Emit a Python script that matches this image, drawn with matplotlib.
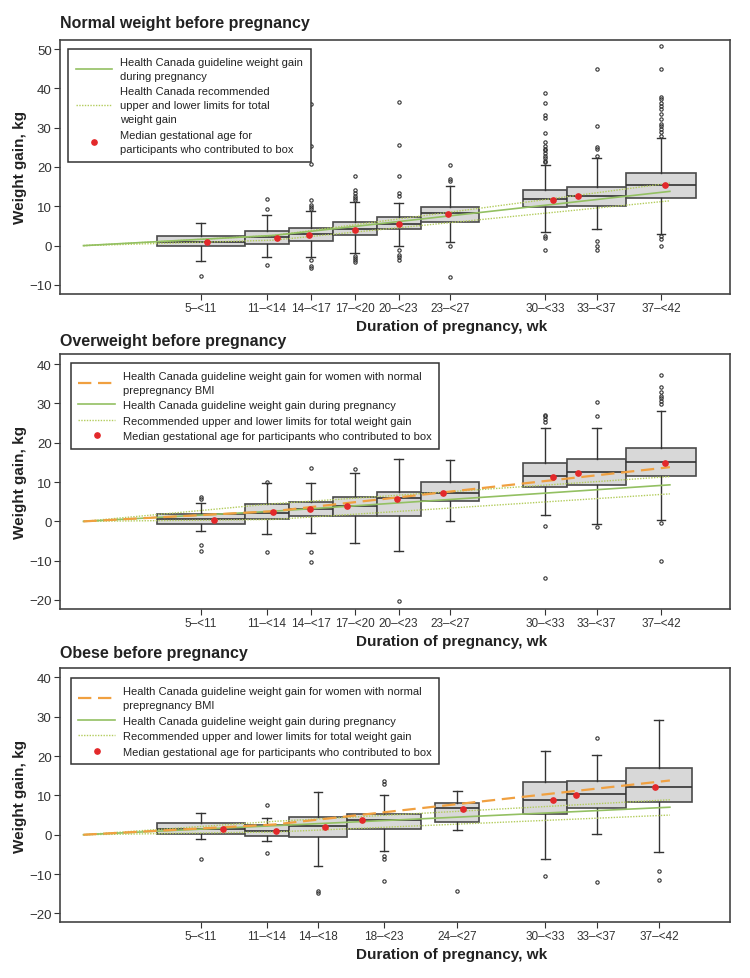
import matplotlib
matplotlib.use("Agg")
import matplotlib.pyplot as plt
from matplotlib.lines import Line2D

plt.rcParams['font.family'] = ['Liberation Sans', 'DejaVu Sans']
plt.rcParams['axes.unicode_minus'] = True

# ---- guideline lines (week, kg) ----
guide_wk = [0, 13, 40]
normal_mid = [0, 2.6, 13.8]

# ---- panel 1: normal weight ----
lab1 = ["5\u2013<11", "11\u2013<14", "14\u2013<17", "17\u2013<20", "20\u2013<23",
        "23\u2013<27", "30\u2013<33", "33\u2013<37", "37\u2013<42"]
start1 = [5, 11, 14, 17, 20, 23, 30, 33, 37]
end1 = [11, 14, 17, 20, 23, 27, 33, 37, 41.8]
q1_1 = [-0.2, 0.4, 1.3, 2.7, 4.2, 6.0, 9.7, 10.0, 12.0]
med1 = [1.0, 2.1, 2.9, 4.2, 5.6, 8.2, 11.8, 12.7, 15.4]
q3_1 = [2.5, 3.6, 4.4, 6.1, 7.2, 9.8, 14.2, 15.0, 18.5]
wlo1 = [-4.0, -3.0, -2.8, -1.9, 0.0, 1.0, 3.4, 4.2, 3.0]
whi1 = [5.8, 7.8, 8.9, 11.2, 10.9, 15.1, 20.6, 22.2, 27.3]
fl1 = [
    [-7.8],
    [9.2, 11.9, -4.9],
    [9.3, 9.8, 10.4, 11.5, 20.8, 25.4, 35.9, -3.6, -5.1, -5.8],
    [11.5, 12.1, 12.7, 13.4, 14.2, 17.6, -2.7, -3.2, -3.6, -4.1],
    [12.7, 13.3, 17.8, 25.7, 36.5, -1.0, -2.4, -3.0, -3.6],
    [16.5, 17.0, 20.5, -0.1, -8.1],
    [21.2, 21.6, 22.2, 22.9, 23.5, 24.2, 24.7, 25.4, 26.3, 28.6, 32.4, 33.1,
     36.4, 38.7, 2.4, 1.9, -1.0],
    [22.9, 24.7, 25.2, 30.5, 44.9, 1.1, -0.2, -1.0],
    [27.9, 28.8, 29.7, 30.5, 30.9, 32.2, 33.6, 34.7, 35.6, 36.4, 37.3, 37.9,
     44.9, 50.8, 2.4, 1.7, 0.0],
]
dotwk1 = [8.4, 13.2, 15.4, 18.5, 21.5, 24.9, 32.0, 33.7, 39.7]
dotkg1 = [0.85, 1.95, 2.6, 4.0, 5.5, 8.0, 11.6, 12.5, 15.3]
mid1 = [0, 2.6, 13.8]
up1 = [0, 2.6, 15.9]
lo1 = [0, 1.4, 11.4]

# ---- panel 2: overweight ----
lab2 = lab1
start2 = start1
end2 = end1
q1_2 = [-0.6, 0.7, 1.4, 1.3, 1.3, 5.1, 8.65, 9.3, 11.45]
med2 = [0.6, 2.2, 3.1, 3.8, 5.85, 7.3, 11.5, 12.45, 15.0]
q3_2 = [2.0, 4.4, 5.0, 6.1, 7.5, 9.9, 14.75, 16.0, 18.8]
wlo2 = [-2.5, -3.3, -3.0, -5.4, -7.6, 0.0, 1.6, -0.7, 0.4]
whi2 = [4.8, 9.7, 9.7, 12.3, 15.8, 15.6, 23.7, 23.8, 28.2]
fl2 = [
    [5.8, 6.1, -6.1, -7.6],
    [9.9, -7.7],
    [13.7, -7.8, -10.3],
    [13.3],
    [-20.2],
    [],
    [25.2, 26.0, 26.7, 27.0, -1.2, -14.4],
    [26.9, 30.4, -1.5],
    [29.8, 30.7, 31.4, 32.0, 32.8, 34.1, 37.2, -0.3, -10.1],
]
dotwk2 = [8.9, 12.9, 15.45, 18.0, 21.4, 24.5, 32.0, 33.7, 39.7]
dotkg2 = [0.4, 2.4, 3.1, 3.8, 5.7, 7.2, 11.35, 12.4, 14.9]
mid2 = [0, 2.6, 9.3]
up2 = [0, 4.5, 11.4]
lo2 = [0, 0.5, 7.0]

# ---- panel 3: obese ----
lab3 = ["5\u2013<11", "11\u2013<14", "14\u2013<18", "18\u2013<23", "24\u2013<27",
        "30\u2013<33", "33\u2013<37", "37\u2013<42"]
start3 = [5, 11, 14, 18, 24, 30, 33, 37]
end3 = [11, 14, 18, 23, 27, 33, 37, 41.5]
q1_3 = [0.1, -0.4, -0.7, 1.4, 3.3, 5.3, 6.9, 8.2]
med3 = [1.45, 1.0, 2.1, 3.7, 6.7, 8.8, 10.35, 12.2]
q3_3 = [2.9, 2.5, 4.6, 5.4, 8.1, 13.5, 13.6, 17.1]
wlo3 = [-1.1, -1.7, -7.9, -4.2, 1.2, -6.2, 0.3, -4.4]
whi3 = [5.5, 4.2, 10.9, 10.2, 11.2, 21.3, 20.4, 29.3]
fl3 = [
    [-6.1],
    [7.6, -4.7],
    [-14.2, -14.9],
    [12.9, 13.7, -5.5, -6.2, -11.7],
    [-14.4],
    [-10.4],
    [24.7, -11.9],
    [-9.2, -11.6],
]
dotwk3 = [9.5, 13.1, 16.5, 19.0, 25.9, 32.0, 33.6, 39.0]
dotkg3 = [1.35, 0.95, 2.0, 3.7, 6.5, 8.75, 10.2, 12.1]
mid3 = [0, 2.3, 7.0]
up3 = [0, 3.4, 8.9]
lo3 = [0, 0.7, 5.0]

GREEN = '#93c062'
DOT_GREEN = '#b3cc5c'
ORANGE = '#f0a040'
RED = '#e3282a'
DARK = '#333333'


def draw_panel(ax, labels, start, end, q1, med, q3, wlo, whi, fliers,
               dotwk, dotkg, mid, up, lo, show_normal, ylim, yticks):
    pos = [(s + e) / 2 for s, e in zip(start, end)]
    widths = [e - s for s, e in zip(start, end)]
    stats = []
    for i in range(len(labels)):
        stats.append(dict(med=med[i], q1=q1[i], q3=q3[i], whislo=wlo[i],
                          whishi=whi[i], fliers=fliers[i], label=labels[i]))
    ax.bxp(stats, positions=pos, widths=widths, capwidths=0.6,
           patch_artist=True, manage_ticks=False,
           boxprops=dict(facecolor='#d8d8d8', edgecolor='#4a4a4a', linewidth=1.2),
           medianprops=dict(color=DARK, linewidth=1.2),
           whiskerprops=dict(color=DARK, linewidth=1.0),
           capprops=dict(color=DARK, linewidth=1.0),
           flierprops=dict(marker='o', markersize=2.4, markerfacecolor='none',
                           markeredgecolor=DARK, markeredgewidth=0.8))
    ax.plot(guide_wk, up, color=DOT_GREEN, ls=(0, (1, 1)), lw=1.0, zorder=4)
    ax.plot(guide_wk, lo, color=DOT_GREEN, ls=(0, (1, 1)), lw=1.0, zorder=4)
    ax.plot(guide_wk, mid, color=GREEN, lw=1.2, zorder=4)
    if show_normal:
        ax.plot(guide_wk, normal_mid, color=ORANGE, ls=(0, (6, 3)), lw=1.6, zorder=5)
    ax.plot(dotwk, dotkg, 'o', color=RED, ms=3.8, zorder=6)

    ax.set_xlim(-1.6, 44.1)
    ax.set_ylim(*ylim)
    ax.set_yticks(yticks)
    ax.set_xticks(pos)
    ax.set_xticklabels(labels)
    ax.tick_params(colors=DARK, length=4, width=0.8)
    ax.tick_params(axis='y', labelsize=9.5, pad=2)
    ax.tick_params(axis='x', labelsize=8.5, pad=2)
    for sp in ax.spines.values():
        sp.set_color('#444444')
        sp.set_linewidth(1.2)
    ax.set_ylabel('Weight gain, kg', fontweight='bold', fontsize=11, color='#222222')
    ax.yaxis.set_label_coords(-0.049, 0.5)
    ax.set_xlabel('Duration of pregnancy, wk', fontweight='bold', fontsize=11,
                  color='#222222')
    ax.xaxis.set_label_coords(0.584, -0.098)


fig = plt.figure(figsize=(7.5, 9.79), dpi=100)
ax1 = fig.add_axes([0.08, 0.6987, 0.8933, 0.2594])
ax2 = fig.add_axes([0.08, 0.3769, 0.8933, 0.2605])
ax3 = fig.add_axes([0.08, 0.0572, 0.8933, 0.2594])

draw_panel(ax1, lab1, start1, end1, q1_1, med1, q3_1, wlo1, whi1, fl1,
           dotwk1, dotkg1, mid1, up1, lo1, False, (-12.3, 52.3),
           [-10, 0, 10, 20, 30, 40, 50])
draw_panel(ax2, lab2, start2, end2, q1_2, med2, q3_2, wlo2, whi2, fl2,
           dotwk2, dotkg2, mid2, up2, lo2, True, (-22.3, 42.6),
           [-20, -10, 0, 10, 20, 30, 40])
draw_panel(ax3, lab3, start3, end3, q1_3, med3, q3_3, wlo3, whi3, fl3,
           dotwk3, dotkg3, mid3, up3, lo3, True, (-22.2, 42.4),
           [-20, -10, 0, 10, 20, 30, 40])

# legends
h_mid = Line2D([], [], color=GREEN, lw=1.2)
h_lim = Line2D([], [], color=DOT_GREEN, ls=(0, (1, 1)), lw=1.0)
h_dot = Line2D([], [], marker='o', ls='none', color=RED, ms=3.8)
h_norm = Line2D([], [], color=ORANGE, ls=(0, (6, 3)), lw=1.6)

leg_kw = dict(loc='upper left', fontsize=8, frameon=True, fancybox=False,
              edgecolor=DARK, framealpha=1, handlelength=3.3, handletextpad=0.7,
              borderpad=0.7, labelspacing=0.5, borderaxespad=0)

l1 = ax1.legend([h_mid, h_lim, h_dot],
                ["Health Canada guideline weight gain\nduring pregnancy",
                 "Health Canada recommended\nupper and lower limits for total\nweight gain",
                 "Median gestational age for\nparticipants who contributed to box"],
                bbox_to_anchor=(0.012, 0.965), **leg_kw)
labels_23 = ["Health Canada guideline weight gain for women with normal\nprepregnancy BMI",
             "Health Canada guideline weight gain during pregnancy",
             "Recommended upper and lower limits for total weight gain",
             "Median gestational age for participants who contributed to box"]
l2 = ax2.legend([h_norm, h_mid, h_lim, h_dot], labels_23,
                bbox_to_anchor=(0.016, 0.965), **leg_kw)
l3 = ax3.legend([h_norm, h_mid, h_lim, h_dot], labels_23,
                bbox_to_anchor=(0.016, 0.96), **leg_kw)
for lg in (l1, l2, l3):
    lg.get_frame().set_linewidth(1.1)
    for t in lg.get_texts():
        t.set_color('#222222')
        t.set_linespacing(1.5)

titles = ["Normal weight before pregnancy", "Overweight before pregnancy",
          "Obese before pregnancy"]
for t, y in zip(titles, [0.9755, 0.6507, 0.332]):
    fig.text(0.08, y, t, fontsize=11.5, fontweight='bold', va='center',
             ha='left', color='#222222')

fig.savefig('out.png', dpi=100)
